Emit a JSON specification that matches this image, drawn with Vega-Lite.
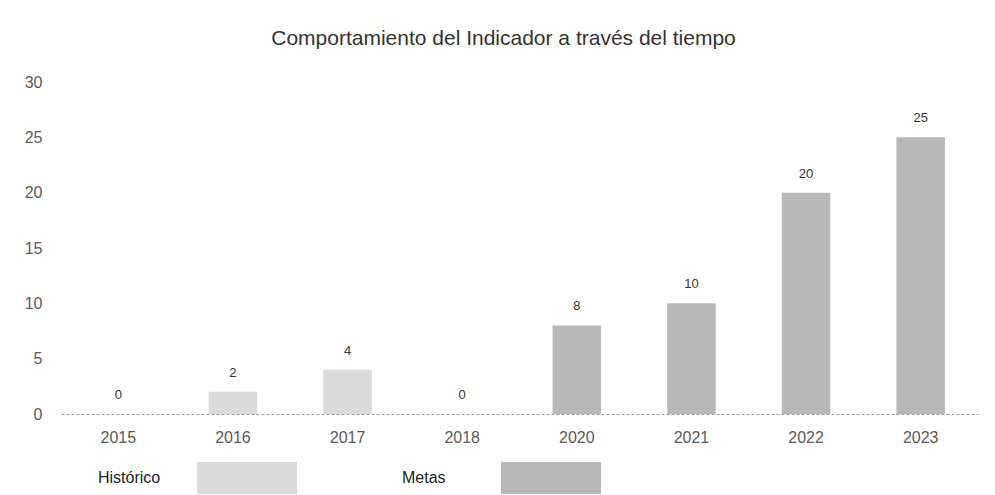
{
  "$schema": "https://vega.github.io/schema/vega-lite/v6.json",
  "width": 917,
  "height": 332,
  "autosize": {"type": "none"},
  "padding": {"left": 61, "top": 82, "right": 17, "bottom": 81},
  "background": "white",
  "title": {
    "text": "Comportamiento del Indicador a través del tiempo",
    "font": "Liberation Sans",
    "fontSize": 21,
    "fontWeight": "normal",
    "color": "#333333",
    "anchor": "middle",
    "dx": -16,
    "offset": 25
  },
  "config": {
    "view": {"stroke": null},
    "font": "Liberation Sans"
  },
  "data": {
    "values": [
      {"year": "2015", "value": 0, "type": "Histórico"},
      {"year": "2016", "value": 2, "type": "Histórico"},
      {"year": "2017", "value": 4, "type": "Histórico"},
      {"year": "2018", "value": 0, "type": "Histórico"},
      {"year": "2020", "value": 8, "type": "Metas"},
      {"year": "2021", "value": 10, "type": "Metas"},
      {"year": "2022", "value": 20, "type": "Metas"},
      {"year": "2023", "value": 25, "type": "Metas"}
    ]
  },
  "encoding": {
    "x": {
      "field": "year",
      "type": "nominal",
      "sort": null,
      "scale": {"paddingInner": 0.577, "paddingOuter": 0.2885},
      "axis": {
        "title": null,
        "labelAngle": 0,
        "ticks": false,
        "labelPadding": 15,
        "labelFont": "Liberation Sans",
        "labelFontSize": 16,
        "labelColor": "#5a5a5a",
        "domainColor": "#999999",
        "domainDash": [3, 2],
        "domainWidth": 1
      }
    },
    "y": {
      "field": "value",
      "type": "quantitative",
      "scale": {"domain": [0, 30]},
      "axis": {
        "title": null,
        "values": [0, 5, 10, 15, 20, 25, 30],
        "grid": false,
        "domain": false,
        "ticks": false,
        "labelPadding": 19,
        "labelFont": "Liberation Sans",
        "labelFontSize": 16,
        "labelColor": "#5a5a5a"
      }
    }
  },
  "layer": [
    {
      "mark": {"type": "bar"},
      "encoding": {
        "color": {
          "field": "type",
          "type": "nominal",
          "scale": {"domain": ["Histórico", "Metas"], "range": ["#dadada", "#b8b8b8"]},
          "legend": {
            "title": null,
            "orient": "none",
            "legendX": 136,
            "legendY": 346,
            "direction": "horizontal",
            "symbolType": "M-1,-0.32L1,-0.32L1,0.32L-1,0.32Z",
            "symbolSize": 10000,
            "symbolStrokeWidth": 0,
            "labelAlign": "left",
            "labelOffset": -199,
            "labelFont": "Liberation Sans",
            "labelFontSize": 16,
            "labelColor": "#222222",
            "columnPadding": 105
          }
        }
      }
    },
    {
      "mark": {"type": "text", "baseline": "middle", "dy": -19, "fontSize": 13, "color": "#333333"},
      "encoding": {"text": {"field": "value", "type": "quantitative"}}
    }
  ]
}
